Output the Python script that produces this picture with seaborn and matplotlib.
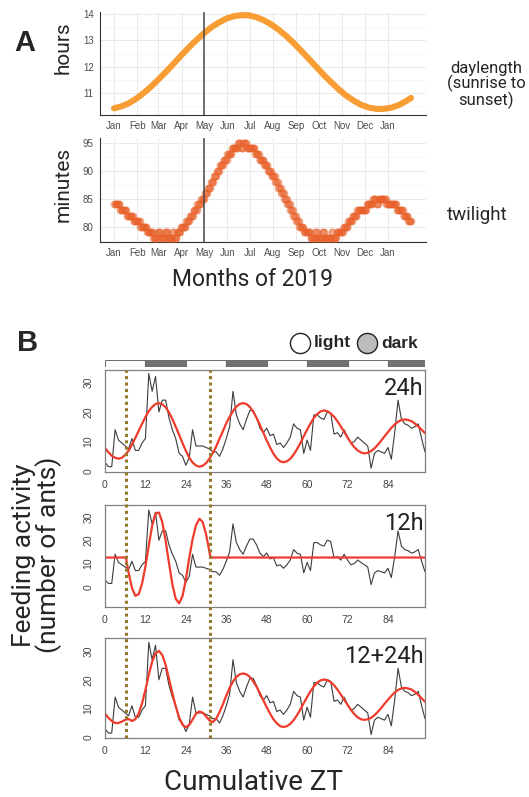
import matplotlib.pyplot as plt
import matplotlib.lines as mlines
import numpy as np
import seaborn as sns

sns.set_style("white")
plt.rcParams["font.family"] = ["Roboto", "DejaVu Sans"]

# ---------------- panel A data ----------------
month_days = [0, 31, 59, 90, 120, 151, 181, 212, 243, 273, 304, 334, 365]
month_labels = ["Jan", "Feb", "Mar", "Apr", "May", "Jun", "Jul",
                "Aug", "Sep", "Oct", "Nov", "Dec", "Jan"]
may_day = 120

day_len_days = [0, 10, 20, 30, 40, 50, 60, 70, 80, 90, 100, 110, 120, 130,
                140, 150, 160, 170, 180, 190, 200, 210, 220, 230, 240, 250,
                260, 270, 280, 290, 300, 310, 320, 330, 340, 350, 360, 370,
                380, 390, 396]
day_len_hours = [10.40, 10.48, 10.60, 10.78, 11.00, 11.25, 11.53, 11.82, 12.13,
                 12.44, 12.74, 13.02, 13.28, 13.51, 13.69, 13.84, 13.93, 13.97,
                 13.96, 13.89, 13.77, 13.61, 13.40, 13.16, 12.89, 12.59, 12.29,
                 11.98, 11.67, 11.39, 11.12, 10.88, 10.69, 10.53, 10.43, 10.38,
                 10.38, 10.43, 10.53, 10.69, 10.80]

# twilight (minutes), one value per day, given as runs: first day of run, value
tw_start = [0, 8, 17, 26, 35, 44, 52, 58, 62, 68, 72, 78, 80, 84, 89, 96, 101,
            106, 111, 116, 121, 125, 129, 133, 137, 141, 146, 151, 157, 165,
            169, 172, 177, 188, 194, 200, 205, 210, 215, 219, 223, 227, 231,
            235, 239, 243, 247, 253, 262, 268, 271, 278, 281, 290, 292, 297,
            306, 312, 318, 324, 337, 345, 350, 353, 363, 377, 386, 392]
tw_minutes = [84, 83, 82, 81, 80, 79, 78, 79, 78, 79, 78, 79, 78, 79, 80, 81, 82,
              83, 84, 85, 86, 87, 88, 89, 90, 91, 92, 93, 94, 95,
              94, 95, 94, 93, 92, 91, 90, 89, 88, 87, 86, 85, 84,
              83, 82, 81, 80, 79, 78, 79, 78, 79, 78, 79, 78, 79,
              80, 81, 82, 83, 84, 85, 84, 85, 84, 83, 82, 81]
tw_last_day = 396

# ---------------- panel B data ----------------
zt_hours = list(range(96))
feeding = [3, 1.5, 1.5, 14, 10.5, 9.5, 8.5, 7.5, 11, 7,
           7, 9.5, 11, 33, 27, 32, 20, 24, 24, 18,
           14, 11, 6, 5, 2, 4.5, 14, 8.5, 8.5, 8.5,
           8, 7.5, 6.5, 6.5, 5, 7.5, 11, 15, 27, 19,
           16, 14, 17.5, 20.5, 20.5, 18, 14.5, 13, 14.5, 12,
           12.5, 9, 9.5, 8, 9.5, 11.5, 16, 14.5, 14, 6,
           10.5, 7, 19, 19, 18, 17.5, 20, 19.5, 12.5, 13,
           11.5, 14, 11.5, 9.5, 10, 11.5, 10.5, 9.5, 8.5, 1,
           6, 7, 6.5, 6, 8, 4, 13, 24, 17.5, 16,
           15.5, 14.5, 15, 16, 11, 6.5]
fit_24h = [7.9, 6.4, 5.2, 4.5, 4.2, 4.5, 5.5, 6.9, 8.9, 11.2,
           13.6, 16.0, 18.3, 20.3, 21.7, 22.7, 23.0, 22.6, 21.6, 19.9,
           17.6, 15.0, 12.3, 9.5, 6.9, 4.6, 2.9, 1.9, 1.5, 1.8,
           2.7, 4.2, 6.1, 8.3, 11.0, 13.5, 16.2, 18.4, 20.3, 21.8,
           22.7, 23.0, 22.7, 21.7, 20.1, 18.0, 15.6, 13.0, 10.4, 8.0,
           5.9, 4.3, 3.3, 3.0, 3.3, 4.2, 5.6, 7.4, 9.5, 11.8,
           14.0, 16.1, 18.0, 19.3, 20.2, 20.5, 20.3, 19.5, 18.4, 16.9,
           15.1, 13.3, 11.4, 9.6, 8.1, 7.0, 6.3, 6.0, 6.2, 6.8,
           7.7, 8.9, 10.3, 11.8, 13.2, 14.6, 15.8, 16.7, 17.3, 17.5,
           17.3, 16.9, 16.1, 15.1, 14.0, 12.8]
fit_12_24h = [8.3, 6.8, 5.7, 5.0, 5.0, 5.5, 6.1, 6.4, 5.7, 6.3,
              8.3, 11.8, 16.5, 21.8, 26.3, 29.2, 30.0, 28.6, 25.2, 20.3,
              15.3, 10.8, 7.0, 4.4, 3.5, 4.3, 6.2, 8.2, 9.0, 8.6,
              7.3, 5.9, 5.3, 6.5, 8.8, 11.5, 14.5, 17.2, 19.4, 21.0,
              21.9, 22.2, 21.9, 21.0, 19.5, 17.6, 15.3, 12.9, 10.5, 8.3,
              6.3, 4.9, 3.9, 3.6, 3.9, 4.7, 6.0, 7.7, 9.7, 11.9,
              14.0, 16.0, 17.7, 19.0, 19.8, 20.1, 19.9, 19.2, 18.1, 16.6,
              14.9, 13.1, 11.3, 9.6, 8.1, 7.0, 6.3, 6.1, 6.3, 6.8,
              7.7, 8.9, 10.2, 11.7, 13.1, 14.4, 15.6, 16.5, 17.0, 17.2,
              17.0, 16.6, 15.8, 14.8, 13.6, 12.4]
fit_12h_zt = [0, 6.2, 7, 8, 9, 10, 11, 12, 13, 14, 15, 16, 17, 18, 19, 20,
              21, 22, 23, 24, 25, 26, 27, 28, 29, 30, 31, 31.3, 95]
fit_12h = [12.6, 12.6, 6.1, -0.4, -3.8, -3.1, 1.4, 8.7, 17.7, 26.2, 31.4, 31.9,
           27.8, 19.8, 10.2, 1.1, -5.1, -7.0, -4.0, 3.0, 12.4, 20.4, 26.4, 29.2,
           27.8, 22.6, 15.1, 12.6, 12.6]
window_zt = [6.2, 31.3]
ld_start = [0, 12, 24, 36, 48, 60, 72, 84]
ld_state = ["light", "dark", "light", "dark", "light", "dark", "light", "dark"]
ld_colors = {"light": "white", "dark": "#727272"}

W, H = 529, 797


def box(left, top, right, bottom):
    return [left / W, 1 - bottom / H, (right - left) / W, (bottom - top) / H]


def fig_xy(x, y):
    return x / W, 1 - y / H


fig = plt.figure(figsize=(5.29, 7.97), dpi=100)
tick_font = {"family": "Liberation Sans"}

# ---------------- panel A ----------------
ax_day = fig.add_axes(box(100, 12, 426, 115))
ax_tw = fig.add_axes(box(100, 138, 426, 242))

sns.lineplot(x=day_len_days, y=day_len_hours, ax=ax_day, color="#F7931E",
             linewidth=4.4, alpha=0.9, solid_capstyle="round")

tw_bounds = tw_start + [tw_last_day + 1]
tw_days = np.arange(tw_start[0], tw_last_day + 1)
tw_vals = np.repeat(tw_minutes, np.diff(tw_bounds))
sns.scatterplot(x=tw_days, y=tw_vals, ax=ax_tw, s=24, color="#E9622B",
                alpha=0.35, edgecolor="#E9622B", linewidth=0.8, zorder=3)

for ax, ylim, yt, minor in [(ax_day, (10.147, 14.09), [11, 12, 13, 14], [10.5, 11.5, 12.5, 13.5]),
                            (ax_tw, (77.27, 95.84), [80, 85, 90, 95], [77.5, 82.5, 87.5, 92.5])]:
    ax.set_xlim(-18.7, 416)
    ax.set_ylim(*ylim)
    ax.set_xticks(month_days)
    ax.set_xticklabels(month_labels, fontdict=tick_font)
    ax.set_yticks(yt)
    ax.set_yticklabels([str(v) for v in yt], fontdict=tick_font)
    ax.set_yticks(minor, minor=True)
    ax.grid(True, which="major", color="#E6E6E6", linewidth=0.6)
    ax.grid(True, which="minor", axis="y", color="#F2F2F2", linewidth=0.4)
    ax.set_axisbelow(True)
    ax.axvline(may_day, color="#4A4A4A", linewidth=1.1, zorder=4)
    for s in ["top", "right"]:
        ax.spines[s].set_visible(False)
    for s in ["left", "bottom"]:
        ax.spines[s].set_color("#333333")
        ax.spines[s].set_linewidth(0.8)
    ax.tick_params(axis="both", which="major", direction="out", length=2.5,
                   width=0.6, color="#333333", labelsize=7, labelcolor="#4D4D4D", pad=2)
    ax.tick_params(axis="y", which="minor", length=0)
    ax.set_xlabel("")
    ax.set_ylabel("")

fig.text(*fig_xy(25, 43), "A", fontsize=21, fontweight="bold",
         family="Liberation Sans", ha="center", va="center")
fig.text(*fig_xy(63, 48), "hours", fontsize=15, rotation=90, ha="center", va="center")
fig.text(*fig_xy(63, 184), "minutes", fontsize=15, rotation=90, ha="center", va="center")
fig.text(*fig_xy(486, 85), "daylength\n(sunrise to\nsunset)", fontsize=12,
         ha="center", va="center", linespacing=0.95)
fig.text(*fig_xy(477, 215), "twilight", fontsize=13.5, ha="center", va="center")
fig.text(*fig_xy(253, 280), "Months of 2019", fontsize=16.5, ha="center", va="center")

# ---------------- panel B ----------------
fig.text(*fig_xy(28, 343), "B", fontsize=21, fontweight="bold",
         family="Liberation Sans", ha="center", va="center")

ax_ld = fig.add_axes(box(105, 360, 425, 367))
ax_ld.bar(ld_start, [1] * len(ld_start), width=12, align="edge",
          color=[ld_colors[s] for s in ld_state], edgecolor="#6E6E6E", linewidth=0.8)
ax_ld.set_xlim(0, 95)
ax_ld.set_ylim(0, 1)
ax_ld.axis("off")

for (x, y), fc, label in [((300, 343), "white", "light"), ((367, 343), "#BDBDBD", "dark")]:
    fx_, fy_ = fig_xy(x, y)
    fig.add_artist(mlines.Line2D([fx_], [fy_], marker="o", markersize=14.5,
                                 markerfacecolor=fc, markeredgecolor="#222222",
                                 markeredgewidth=1.0, transform=fig.transFigure))
    fig.text(fx_ + 14 / W, fy_, label, fontsize=12.5, fontweight="bold",
             family="Liberation Sans", ha="left", va="center")

panels = [
    (box(105, 370, 425, 472), fit_24h, zt_hours, "24h", (-0.3, 34.2), np.arange(0, 31, 5)),
    (box(105, 505, 425, 607), fit_12h, fit_12h_zt, "12h", (-8.6, 35.1), np.arange(0, 31, 10)),
    (box(105, 638, 425, 738), fit_12_24h, zt_hours, "12+24h", (-0.2, 34.5), np.arange(0, 31, 5)),
]
for pos, fit_y, fit_x, label, ylim, yt in panels:
    ax = fig.add_axes(pos)
    sns.lineplot(x=zt_hours, y=feeding, ax=ax, color="#3C3C3C", linewidth=0.8)
    sns.lineplot(x=fit_x, y=fit_y, ax=ax, color="#EF3B2C", linewidth=1.6)
    ax.set_xlim(0, 95)
    ax.set_ylim(*ylim)
    ax.set_xticks(list(range(0, 96, 12)))
    ax.set_xticklabels([str(v) for v in range(0, 96, 12)], fontdict=tick_font)
    ax.set_yticks(yt)
    ax.set_yticklabels([str(v) if v % 10 == 0 else "" for v in yt], fontdict=tick_font,
                       rotation=90, va="center")
    for s in ax.spines.values():
        s.set_color("#7F7F7F")
        s.set_linewidth(0.9)
    ax.tick_params(axis="x", direction="in", length=5.5, width=0.8, color="#555555",
                   labelsize=7.5, labelcolor="#444444", pad=6)
    ax.tick_params(axis="y", direction="out", length=4.5, width=0.8, color="#555555",
                   labelsize=7.5, labelcolor="#444444", pad=4)
    ax.set_xlabel("")
    ax.set_ylabel("")
    ax.text(0.995, 0.93, label, transform=ax.transAxes, ha="right", va="top",
            fontsize=17, color="#222222")

# dotted window markers spanning all three panels
ax_ov = fig.add_axes(box(105, 370, 425, 738))
ax_ov.set_xlim(0, 95)
ax_ov.set_ylim(0, 1)
ax_ov.patch.set_alpha(0)
ax_ov.axis("off")
for z in window_zt:
    ax_ov.axvline(z, color="#93782C", linewidth=2.2, linestyle=(0, (1, 1.1)))

fig.text(*fig_xy(37, 555), "Feeding activity\n(number of ants)", fontsize=19,
         rotation=90, ha="center", va="center", linespacing=0.95)
fig.text(*fig_xy(253, 782), "Cumulative ZT", fontsize=20, ha="center", va="center")

fig.savefig("out.png", dpi=100)
